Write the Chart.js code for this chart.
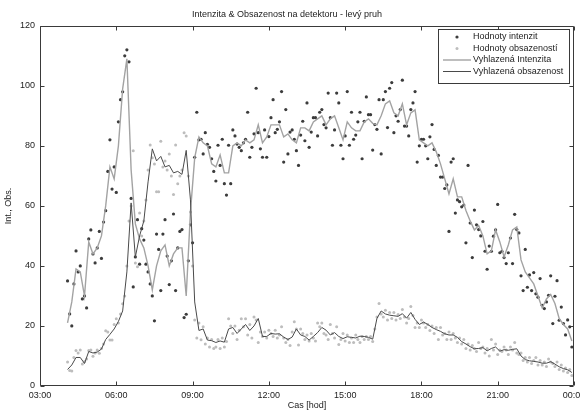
<!DOCTYPE html>
<html>
<head>
<meta charset="utf-8">
<script src="https://cdn.jsdelivr.net/npm/chart.js@4.4.1/dist/chart.umd.min.js"></script>
<style>
html, body { margin: 0; padding: 0; background: #fff; }
#wrap { width: 580px; height: 412px; }
</style>
</head>
<body>
<div id="wrap"><canvas id="graf" width="580" height="412"></canvas></div>
<script>
// mereni z detektoru, body po 5 min od 04:05, vyhlazene krivky po 10 min od 04:05
var startMin = 4 * 60 + 5;
var krokBody = 5;
var krokKrivky = 10;

var hodnotyIntenzit = [
    35, 24, 20, 34, 45, 38, 40, 29, 30, 26,
    49, 52, 44, 41, 46, 51.5, 42.5, 54.6, 58.4, 71.5,
    82, 65.6, 73, 64.5, 88, 95.4, 98, 110, 112, 108,
    62.5, 33, 43, 55.4, 40.6, 52.4, 48.6, 40.6, 38, 34,
    30, 21.7, 50.6, 45.5, 31.8, 50.6, 55.4, 43.3, 33.8, 41.7,
    57.3, 31.8, 46, 51.5, 52.1, 22.8, 23.9, 41.7, 53.7, 47.7,
    76.2, 91.2, 82, 82.2, 77.3, 84.4, 80.5, 79.5, 75.7, 71.5,
    68.3, 80.2, 73.5, 82.2, 67.4, 63.6, 80.2, 67.4, 85.3, 83.3,
    80.6, 79.5, 78.4, 81, 82.2, 91.2, 76.2, 79.5, 84, 99.2,
    84.4, 79, 76.2, 85.3, 76.2, 83.1, 89.4, 95.4, 84.4, 85.5,
    88, 98.1, 74.6, 92.1, 77.3, 84.6, 85.3, 82.2, 78.4, 73.5,
    83.6, 88.2, 81.7, 94.3, 79.5, 84.6, 89.4, 89.4, 83.3, 91.2,
    92.1, 87.1, 86, 97.6, 89.4, 80.2, 85.3, 97.6, 94.3, 80.2,
    75.7, 83.3, 98.1, 80.2, 91.2, 82.2, 83.6, 88, 91.2, 75.7,
    88.2, 96.3, 90.4, 90.4, 78.6, 87.1, 85.5, 95.4, 77.3, 95.4,
    98.1, 86.1, 99.2, 101.1, 84.4, 90, 88.2, 92.1, 101.9, 86.6,
    86.6, 83.3, 92.1, 94.3, 98.1, 74.6, 80, 82.2, 82.2, 80,
    75.7, 83, 87.1, 78.8, 73.5, 76.8, 69.6, 69.6, 65.8, 67,
    51.5, 74.6, 75.7, 57.6, 62, 61.4, 59.7, 60.3, 47.7, 73.5,
    54.3, 42.8, 58.6, 53.7, 52.1, 50, 54.8, 44.9, 38.9, 46.6,
    44.9, 49.9, 52, 60.5, 44.4, 44.9, 42.8, 40.8, 44.4, 49.3,
    40.8, 57.2, 52.1, 51, 36.7, 31.8, 45.5, 32.9, 37, 31.8,
    37.8, 30.7, 29.6, 35.8, 26.9, 25.8, 28, 30.2, 36.7, 20.8,
    29.9, 35.1, 21.9, 26.3, 20.8, 17, 22, 19.7, 13
];

var hodnotyObsazenosti = [
    8, 5.2, 5, 9.5, 11.8, 11, 12, 7.3, 8.2, 9,
    11.8, 12, 9.9, 11, 12, 10.9, 12.5, 14, 18.4, 18,
    15.3, 15.3, 20.5, 22.4, 21, 24, 27.4, 30, 40, 55,
    60, 78.4, 41, 39.7, 57.6, 50, 55, 62, 72, 80.3,
    76, 74, 64.7, 64.7, 81.5, 73, 75, 72, 77.3, 70,
    63.8, 80.3, 67.4, 70, 72, 84.4, 83.3, 70, 58, 40,
    22, 16, 21, 15.4, 19.7, 14, 16, 13, 15.5, 12.5,
    13, 15.5, 12.5, 16, 13, 14.8, 22.4, 20, 17.5, 20,
    15.5, 18.6, 22.4, 19.7, 22.4, 17, 20.5, 16, 23, 22,
    14.5, 18, 16.5, 18, 16, 18.6, 17.5, 16.5, 18.6, 16,
    17, 19.7, 16, 14.5, 15.5, 13.5, 18, 21.4, 19, 13.7,
    19, 17.5, 15.5, 17, 15, 17.5, 16, 15, 21, 19.7,
    21, 17.5, 17, 15.5, 20.5, 17.5, 16, 19.7, 13.8, 15.5,
    17.5, 15, 17, 14.5, 16, 14.5, 17, 15.5, 14.5, 16.5,
    15.5, 16.5, 15.5, 16.5, 14.8, 19, 23, 27.5, 24, 23,
    25.2, 22, 24.5, 22.5, 24.5, 22, 23.8, 22.5, 25.5, 23,
    21, 22.5, 26.5, 23.5, 19.5, 21, 19.5, 22, 21, 19.5,
    20.5, 18.5, 20, 17.5, 19.5, 15.5, 19.5, 17, 17.5, 15.5,
    18, 15.5, 17.5, 16, 14.5, 16, 14, 15.5, 12.5, 14,
    12, 13.5, 12.5, 11.5, 14.5, 12.5, 13, 11, 12.5, 10,
    15.5, 12, 14, 10.5, 12, 11.5, 13, 12, 10.5, 13,
    12, 14.5, 11, 10.5, 11, 8.5, 9.5, 8, 9.5, 7.5,
    8.5, 9.5, 7, 8.5, 7, 8, 6.5, 9, 8, 7.5,
    6.5, 8, 5.5, 7, 5, 6, 4.5, 5.5, 3.5
];

var vyhlazenaIntenzita = [
    21, 28, 39, 38, 30, 48, 44, 46, 50, 60,
    73, 69, 80, 99, 109, 72, 54, 49, 46, 40,
    32, 40, 45, 47, 40, 44, 46, 46, 30, 58,
    76, 83, 81, 80, 74, 73, 77, 71, 71, 80,
    81, 80, 82, 81, 82, 87, 81, 83, 87, 87,
    87, 83, 84, 82, 81, 86, 86, 85, 88, 89,
    90, 87, 89, 90, 86, 82, 88, 86, 85, 85,
    88, 89, 87.5, 87, 90, 94, 95, 91, 90, 94,
    87, 91, 92, 82, 81, 80, 81, 78, 74, 69,
    64, 69, 63, 63, 58.5, 55, 52, 53.5, 50, 44,
    45, 52, 48, 43, 47, 52, 53, 42, 38, 36,
    34, 30, 26, 29, 30.5, 27.5, 22.5, 20.5, 19, 15
];

var vyhlazenaObsazenost = [
    5.5, 7, 9.5, 9.5, 7.5, 11.5, 11, 11.3, 12.3, 15.5,
    17.2, 19, 21.5, 25, 38, 61, 43, 50, 55, 68,
    79, 75, 76.5, 73, 73.5, 71, 71.5, 70.5, 78.5, 62,
    28, 18.5, 19, 15.3, 15.1, 14.5, 15, 14.6, 19, 19.5,
    17.5, 19, 20.5, 18.5, 20, 22.5, 16.5, 16.5, 17.5, 17.3,
    17.4, 16.3, 15.5, 16.3, 19, 17, 16.5, 15.3, 16.5, 17.8,
    19.5, 18.6, 17, 17.8, 16.5, 15.8, 16.4, 16.2, 16, 16.6,
    16.5, 16.2, 15.6, 22.5, 25, 24, 23.6, 23.4, 23.2, 24.1,
    22.6, 24.5, 22.2, 20.5, 21.3, 20.5, 19.5, 18.8, 18.2, 17.4,
    17, 17, 16.2, 14.8, 14, 13.1, 12.4, 12.5, 12.8, 11.7,
    12.5, 13, 11.6, 12.1, 11.9, 12.2, 12.4, 10, 8.8, 8.4,
    8.2, 8, 7.6, 7.6, 8.1, 7.3, 6.4, 5.8, 5.4, 4.5
];

var osaXTicks = [3, 6, 9, 12, 15, 18, 21, 24];
var osaYTicks = [0, 20, 40, 60, 80, 100, 120];

function naBody(hodnoty, krok) {
    var out = [];
    for (var i = 0; i < hodnoty.length; i++) {
        out.push({ x: (startMin + i * krok) / 60, y: hodnoty[i] });
    }
    return out;
}

function casLabel(v) {
    var h = Math.round(v) % 24;
    return (h < 10 ? '0' : '') + h + ':00';
}

var pismo = 'Liberation Sans, Arial, sans-serif';
var barvaTextu = '#222';

// ramecek + dovnitr smerujici carky (matlab styl)
var ramecek = {
    id: 'ramecek',
    afterDatasetsDraw: function (chart) {
        var ctx = chart.ctx, a = chart.chartArea;
        var sx = chart.scales.x, sy = chart.scales.y;
        var l = Math.round(a.left) + 0.5, r = Math.round(a.right) - 0.5;
        var t = Math.round(a.top) + 0.5, b = Math.round(a.bottom) - 0.5;
        var delka = 4;
        ctx.save();
        ctx.strokeStyle = '#3a3a3a';
        ctx.lineWidth = 1;
        ctx.beginPath();
        ctx.rect(l, t, r - l, b - t);
        for (var i = 0; i < osaXTicks.length; i++) {
            var px = Math.round(sx.getPixelForValue(osaXTicks[i])) + 0.5;
            ctx.moveTo(px, b); ctx.lineTo(px, b - delka);
            ctx.moveTo(px, t); ctx.lineTo(px, t + delka);
        }
        for (var j = 0; j < osaYTicks.length; j++) {
            var py = Math.round(sy.getPixelForValue(osaYTicks[j])) + 0.5;
            ctx.moveTo(l, py); ctx.lineTo(l + delka, py);
            ctx.moveTo(r, py); ctx.lineTo(r - delka, py);
        }
        ctx.stroke();
        ctx.restore();
    },
    afterDraw: function (chart) {
        // legenda vpravo nahore
        var ctx = chart.ctx;
        var ds = chart.data.datasets;
        var bx = 438.5, by = 29.5, bw = 131, bh = 54;
        ctx.save();
        ctx.fillStyle = '#fff';
        ctx.fillRect(bx, by, bw, bh);
        ctx.strokeStyle = '#3a3a3a';
        ctx.lineWidth = 1;
        ctx.strokeRect(bx, by, bw, bh);
        ctx.font = '9px ' + pismo;
        ctx.textBaseline = 'middle';
        ctx.textAlign = 'left';
        var radky = [37, 48.5, 60, 71.5];
        for (var i = 0; i < ds.length; i++) {
            var y = radky[i];
            if (ds[i].showLine) {
                ctx.strokeStyle = ds[i].borderColor;
                ctx.lineWidth = ds[i].borderWidth;
                ctx.beginPath();
                ctx.moveTo(443, y);
                ctx.lineTo(471, y);
                ctx.stroke();
            } else {
                ctx.fillStyle = ds[i].backgroundColor;
                ctx.beginPath();
                ctx.arc(457, y, ds[i].pointRadius, 0, Math.PI * 2);
                ctx.fill();
            }
            ctx.fillStyle = barvaTextu;
            ctx.fillText(ds[i].label, 473, y);
        }
        ctx.restore();
    }
};

var ctx = document.getElementById('graf').getContext('2d');
var graf = new Chart(ctx, {
    type: 'scatter',
    data: {
        datasets: [
            {
                label: 'Hodnoty intenzit',
                data: naBody(hodnotyIntenzit, krokBody),
                showLine: false,
                pointRadius: 1.6,
                pointBorderWidth: 0,
                backgroundColor: '#3c3c3c',
                borderColor: '#3c3c3c',
                order: 4
            },
            {
                label: 'Hodnoty obsazeností',
                data: naBody(hodnotyObsazenosti, krokBody),
                showLine: false,
                pointRadius: 1.5,
                pointBorderWidth: 0,
                backgroundColor: '#bdbdbd',
                borderColor: '#bdbdbd',
                order: 3
            },
            {
                label: 'Vyhlazená Intenzita',
                data: naBody(vyhlazenaIntenzita, krokKrivky),
                showLine: true,
                pointRadius: 0,
                borderColor: '#a3a3a3',
                borderWidth: 1.4,
                tension: 0,
                order: 2
            },
            {
                label: 'Vyhlazená obsazenost',
                data: naBody(vyhlazenaObsazenost, krokKrivky),
                showLine: true,
                pointRadius: 0,
                borderColor: '#4a4a4a',
                borderWidth: 1,
                tension: 0,
                order: 1
            }
        ]
    },
    options: {
        responsive: false,
        animation: false,
        devicePixelRatio: 1,
        events: [],
        layout: { autoPadding: false, padding: { left: 0, right: 6, top: 0, bottom: 0 } },
        plugins: {
            legend: { display: false },
            tooltip: { enabled: false },
            title: {
                display: true,
                text: 'Intenzita & Obsazenost na detektoru - levý pruh',
                color: barvaTextu,
                font: { family: pismo, size: 9, weight: 'normal' },
                padding: { top: 9, bottom: 6 }
            }
        },
        scales: {
            x: {
                type: 'linear',
                min: 3,
                max: 24,
                afterBuildTicks: function (s) { s.ticks = osaXTicks.map(function (v) { return { value: v }; }); },
                afterFit: function (s) {
                    s.height = 26;
                    s.paddingLeft = 0;
                    s.paddingRight = 0;
                },
                grid: { display: false, drawTicks: false },
                border: { display: false },
                ticks: {
                    padding: 4,
                    maxRotation: 0,
                    autoSkip: false,
                    color: barvaTextu,
                    font: { family: pismo, size: 9 },
                    callback: function (v) { return casLabel(v); }
                },
                title: {
                    display: true,
                    text: 'Cas [hod]',
                    color: barvaTextu,
                    font: { family: pismo, size: 9 },
                    padding: { top: 0, bottom: 1 }
                }
            },
            y: {
                min: 0,
                max: 120,
                afterBuildTicks: function (s) { s.ticks = osaYTicks.map(function (v) { return { value: v }; }); },
                afterFit: function (s) {
                    s.width = 40;
                    s.paddingTop = 0;
                    s.paddingBottom = 0;
                },
                grid: { display: false, drawTicks: false },
                border: { display: false },
                ticks: {
                    padding: 5,
                    color: barvaTextu,
                    font: { family: pismo, size: 9 }
                },
                title: {
                    display: true,
                    text: 'Int., Obs.',
                    color: barvaTextu,
                    font: { family: pismo, size: 9 },
                    padding: { top: 3, bottom: 0 }
                }
            }
        }
    },
    plugins: [ramecek]
});
</script>
</body>
</html>
